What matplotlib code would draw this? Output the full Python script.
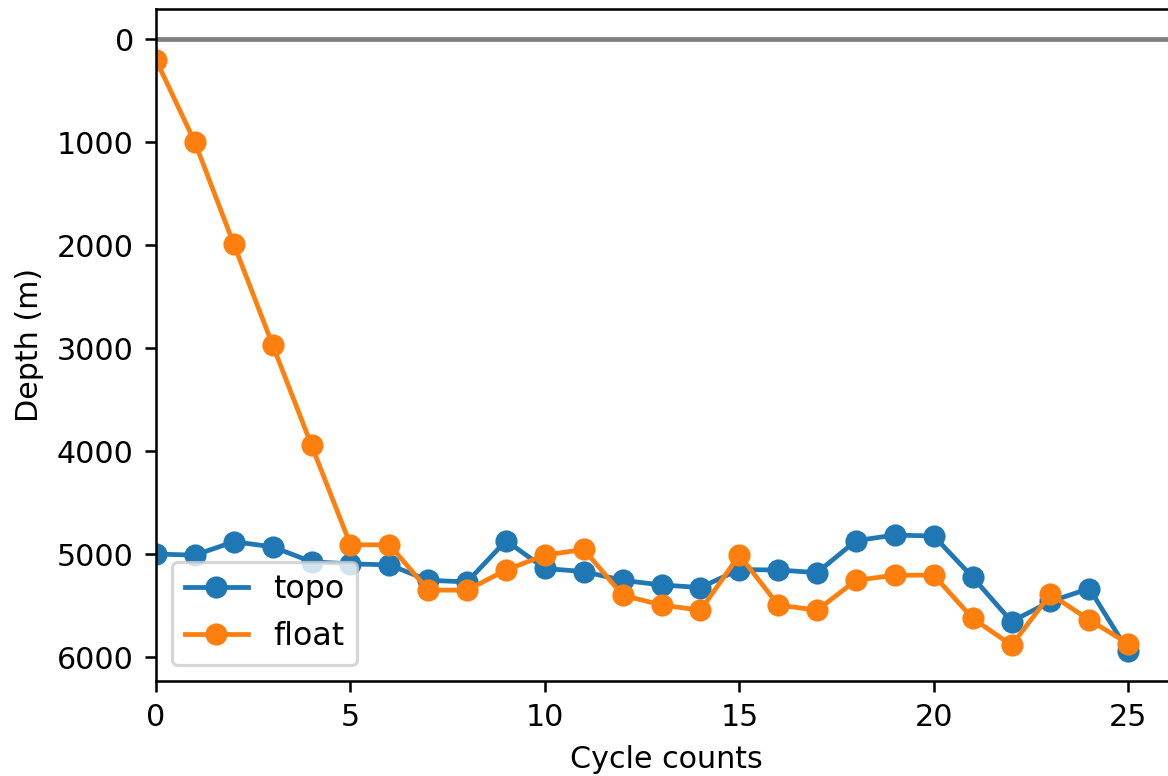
import matplotlib
matplotlib.use('Agg')
import matplotlib.pyplot as plt

cycles = list(range(26))
topo = [5000, 5010, 4880, 4930, 5075, 5095, 5105, 5255, 5270, 4870, 5140, 5170,
        5255, 5300, 5325, 5150, 5155, 5180, 4870, 4815, 4825, 5225, 5655, 5460,
        5335, 5945]
float_depth = [200, 1000, 1990, 2970, 3945, 4910, 4910, 5350, 5350, 5155, 5010, 4955,
               5400, 5495, 5545, 5010, 5495, 5545, 5255, 5205, 5205, 5625, 5885, 5390,
               5640, 5870]

plt.rcParams['font.size'] = 9.5

dpi = 228
fig = plt.figure(figsize=(1168 / dpi, 776 / dpi), dpi=dpi)
ax = fig.add_axes([0.1336, 0.1228, 0.874, 0.865])

ax.plot(cycles, topo, marker='o', label='topo')
ax.plot(cycles, float_depth, marker='o', label='float')
ax.axhline(0, color='grey', linewidth=1.5)

ax.set_xlim(0, 26.25)
ax.set_ylim(6230, -290)
ax.set_xlabel('Cycle counts', labelpad=4)
ax.set_ylabel('Depth (m)')
ax.legend(loc='lower left', fontsize=10)

fig.savefig('out.png', dpi=dpi)
